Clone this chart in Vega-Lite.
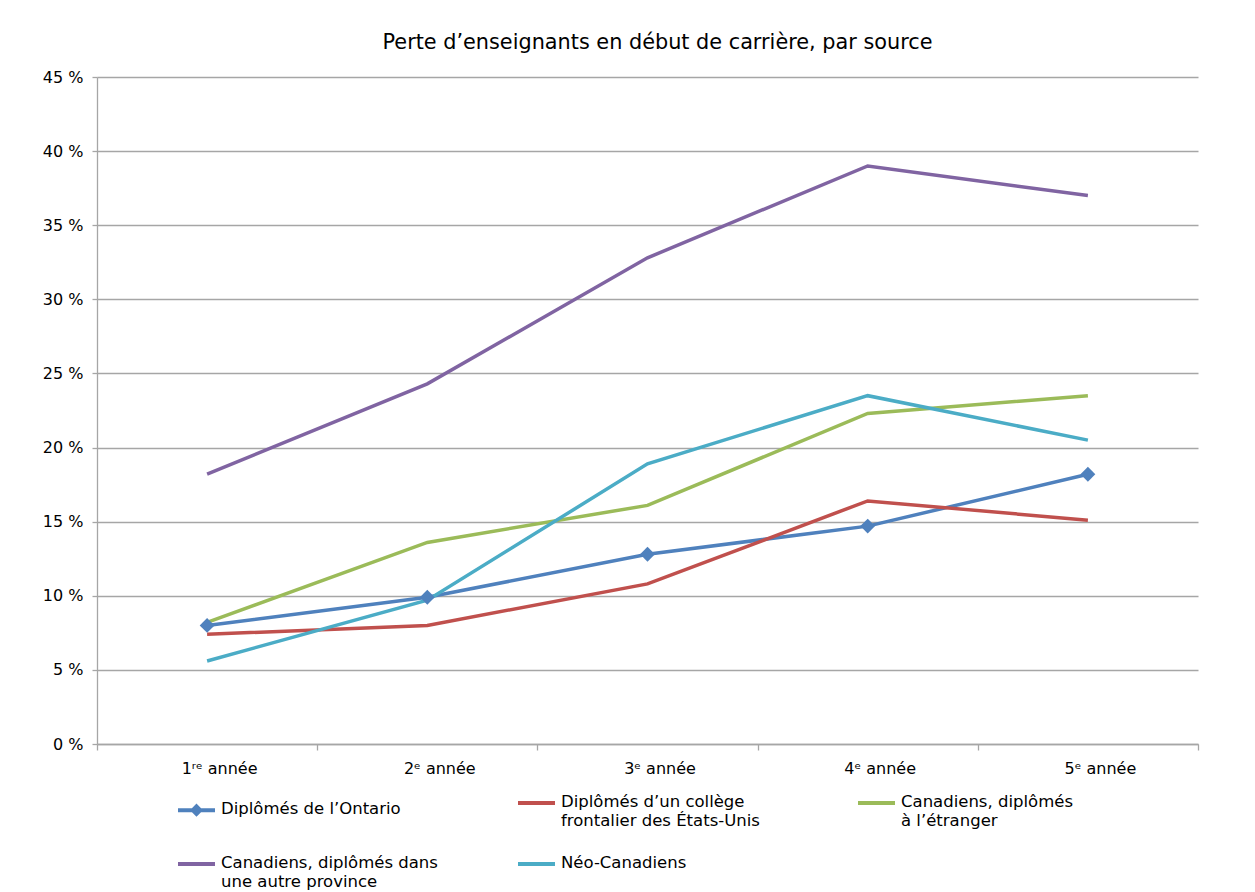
{
  "$schema": "https://vega.github.io/schema/vega-lite/v6.json",
  "width": 1101,
  "height": 667,
  "autosize": {"type": "none"},
  "padding": {"left": 97, "top": 77, "right": 57, "bottom": 148},
  "background": "white",
  "title": {
    "text": "Perte d’enseignants en début de carrière, par source",
    "font": "DejaVu Sans",
    "fontSize": 20.8,
    "fontWeight": "normal",
    "color": "#000000",
    "anchor": "middle",
    "offset": 15,
    "dx": 10
  },
  "config": {
    "view": {"stroke": null},
    "axis": {
      "labelFont": "DejaVu Sans",
      "labelFontSize": 16,
      "labelFontWeight": "normal",
      "labelColor": "#000000",
      "domainColor": "#a6a6a6",
      "tickColor": "#a6a6a6",
      "gridColor": "#a6a6a6",
      "domainWidth": 1.3,
      "tickWidth": 1.3,
      "gridWidth": 1.3,
      "title": null
    }
  },
  "data": {
    "values": [
      {"annee": "1ʳᵉ année", "source": "Diplômés de l’Ontario", "taux": 8.0},
      {"annee": "2ᵉ année", "source": "Diplômés de l’Ontario", "taux": 9.9},
      {"annee": "3ᵉ année", "source": "Diplômés de l’Ontario", "taux": 12.8},
      {"annee": "4ᵉ année", "source": "Diplômés de l’Ontario", "taux": 14.7},
      {"annee": "5ᵉ année", "source": "Diplômés de l’Ontario", "taux": 18.2},
      {"annee": "1ʳᵉ année", "source": "Diplômés d’un collège|frontalier des États-Unis", "taux": 7.4},
      {"annee": "2ᵉ année", "source": "Diplômés d’un collège|frontalier des États-Unis", "taux": 8.0},
      {"annee": "3ᵉ année", "source": "Diplômés d’un collège|frontalier des États-Unis", "taux": 10.8},
      {"annee": "4ᵉ année", "source": "Diplômés d’un collège|frontalier des États-Unis", "taux": 16.4},
      {"annee": "5ᵉ année", "source": "Diplômés d’un collège|frontalier des États-Unis", "taux": 15.1},
      {"annee": "1ʳᵉ année", "source": "Canadiens, diplômés|à l’étranger", "taux": 8.2},
      {"annee": "2ᵉ année", "source": "Canadiens, diplômés|à l’étranger", "taux": 13.6},
      {"annee": "3ᵉ année", "source": "Canadiens, diplômés|à l’étranger", "taux": 16.1},
      {"annee": "4ᵉ année", "source": "Canadiens, diplômés|à l’étranger", "taux": 22.3},
      {"annee": "5ᵉ année", "source": "Canadiens, diplômés|à l’étranger", "taux": 23.5},
      {"annee": "1ʳᵉ année", "source": "Canadiens, diplômés dans|une autre province", "taux": 18.2},
      {"annee": "2ᵉ année", "source": "Canadiens, diplômés dans|une autre province", "taux": 24.3},
      {"annee": "3ᵉ année", "source": "Canadiens, diplômés dans|une autre province", "taux": 32.8},
      {"annee": "4ᵉ année", "source": "Canadiens, diplômés dans|une autre province", "taux": 39.0},
      {"annee": "5ᵉ année", "source": "Canadiens, diplômés dans|une autre province", "taux": 37.0},
      {"annee": "1ʳᵉ année", "source": "Néo-Canadiens", "taux": 5.6},
      {"annee": "2ᵉ année", "source": "Néo-Canadiens", "taux": 9.7},
      {"annee": "3ᵉ année", "source": "Néo-Canadiens", "taux": 18.9},
      {"annee": "4ᵉ année", "source": "Néo-Canadiens", "taux": 23.5},
      {"annee": "5ᵉ année", "source": "Néo-Canadiens", "taux": 20.5}
    ]
  },
  "encoding": {
    "x": {
      "field": "annee",
      "type": "nominal",
      "bandPosition": 0.5,
      "sort": null,
      "scale": {"type": "band", "paddingInner": 0, "paddingOuter": 0},
      "axis": {
        "labelAngle": 0,
        "tickBand": "extent",
        "tickSize": 6,
        "labelPadding": 10,
        "labelOffset": 12,
        "grid": false
      }
    },
    "y": {
      "field": "taux",
      "type": "quantitative",
      "scale": {"domain": [0, 45], "nice": false},
      "axis": {
        "values": [0, 5, 10, 15, 20, 25, 30, 35, 40, 45],
        "labelExpr": "datum.value + ' %'",
        "tickSize": 5,
        "labelPadding": 9,
        "grid": true
      }
    },
    "color": {
      "field": "source",
      "type": "nominal",
      "sort": null,
      "scale": {
        "domain": [
          "Diplômés de l’Ontario",
          "Diplômés d’un collège|frontalier des États-Unis",
          "Canadiens, diplômés|à l’étranger",
          "Canadiens, diplômés dans|une autre province",
          "Néo-Canadiens"
        ],
        "range": ["#4F81BD", "#C0504D", "#9BBB59", "#8064A2", "#4BACC6"]
      }
    }
  },
  "layer": [
    {
      "mark": {"type": "line", "strokeWidth": 3.5},
      "encoding": {
        "color": {
          "field": "source",
          "type": "nominal",
          "sort": null,
          "legend": {
            "orient": "none",
            "legendX": 79,
            "legendY": 716,
            "direction": "horizontal",
            "columns": 3,
            "gridAlign": "all",
            "columnPadding": 72,
            "rowPadding": 25,
            "padding": 0,
            "title": null,
            "symbolType": "stroke",
            "symbolSize": 1369,
            "symbolStrokeWidth": 4,
            "labelFont": "DejaVu Sans",
            "labelFontSize": 16.5,
            "labelFontWeight": "normal",
            "labelColor": "#000000",
            "labelOffset": 4,
            "labelLimit": 500,
            "labelBaseline": "top",
            "labelExpr": "split(datum.label, '|')",
            "encode": {
              "symbols": {
                "update": {
                  "shape": {"signal": "datum.value === 'Diplômés de l’Ontario' ? 'M-1,0L1,0M0,-0.2L0.2,0L0,0.2L-0.2,0Z' : 'M-1,0L1,0'"},
                  "fill": {"scale": "color", "field": "value"},
                  "yc": {"value": 10}
                }
              },
              "labels": {
                "update": {
                  "y": {"value": 1},
                  "baseline": {"value": "top"}
                }
              }
            }
          }
        }
      }
    },
    {
      "transform": [{"filter": "datum.source === 'Diplômés de l’Ontario'"}],
      "mark": {"type": "point", "shape": "diamond", "filled": true, "size": 220, "opacity": 1},
      "encoding": {
        "color": {"field": "source", "type": "nominal", "sort": null, "legend": null}
      }
    }
  ]
}
